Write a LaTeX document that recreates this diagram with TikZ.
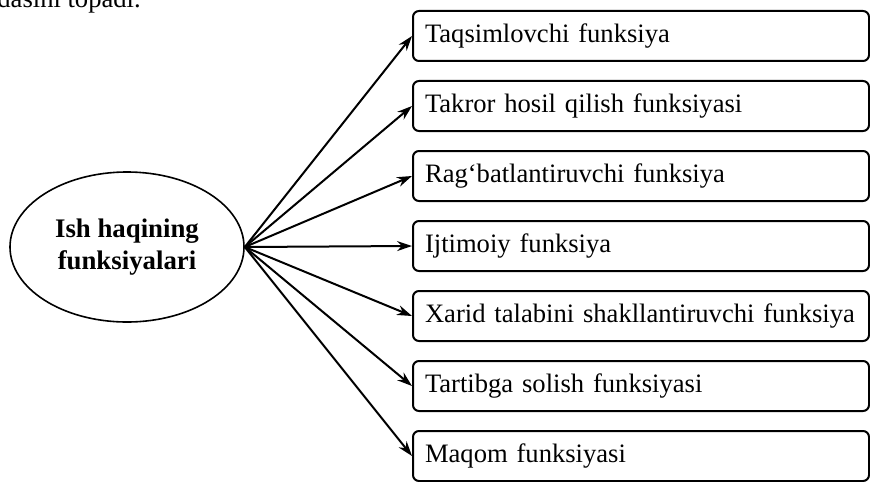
\documentclass[tikz,border=0pt]{standalone}
\usepackage{fontspec}
\setmainfont{Liberation Serif}
\usetikzlibrary{arrows.meta,positioning,shapes.geometric}

\begin{document}
\begin{tikzpicture}[x=0.5pt, y=-0.5pt, every node/.style={font=\fontsize{13.3}{16}\selectfont}, hub/.style={draw, ellipse, line width=0.8pt, inner sep=0pt, minimum width=117pt, minimum height=75pt, align=center, font=\fontsize{13.4}{16}\selectfont\bfseries}, fbox/.style={draw, rounded corners=3pt, line width=1pt, anchor=west, minimum width=228pt, minimum height=25pt, text width=228pt-12pt, inner xsep=6pt, align=left}, arr/.style={-{Stealth[length=7.5pt,width=5pt]}, line width=1pt}]
\useasboundingbox (0,0) rectangle (870,481);
\node[anchor=base west, inner sep=0pt] (top) at (-3,8) {dasini topadi.};
\node[hub] (hub) at (127,247) {Ish haqining\\funksiyalari};
\node[fbox] (f1) at (412,36) {Taqsimlovchi funksiya};
\node[fbox] (f2) at (412,106) {Takror hosil qilish funksiyasi};
\node[fbox] (f3) at (412,176) {Rag‘batlantiruvchi funksiya};
\node[fbox] (f4) at (412,246) {Ijtimoiy funksiya};
\node[fbox] (f5) at (412,316) {Xarid talabini shakllantiruvchi funksiya};
\node[fbox] (f6) at (412,386) {Tartibga solish funksiyasi};
\node[fbox] (f7) at (412,456) {Maqom funksiyasi};
\foreach \n in {f1,f2,f3,f4,f5,f6,f7}{\draw[arr] (hub.east)--(\n.west);}
\end{tikzpicture}
\end{document}
